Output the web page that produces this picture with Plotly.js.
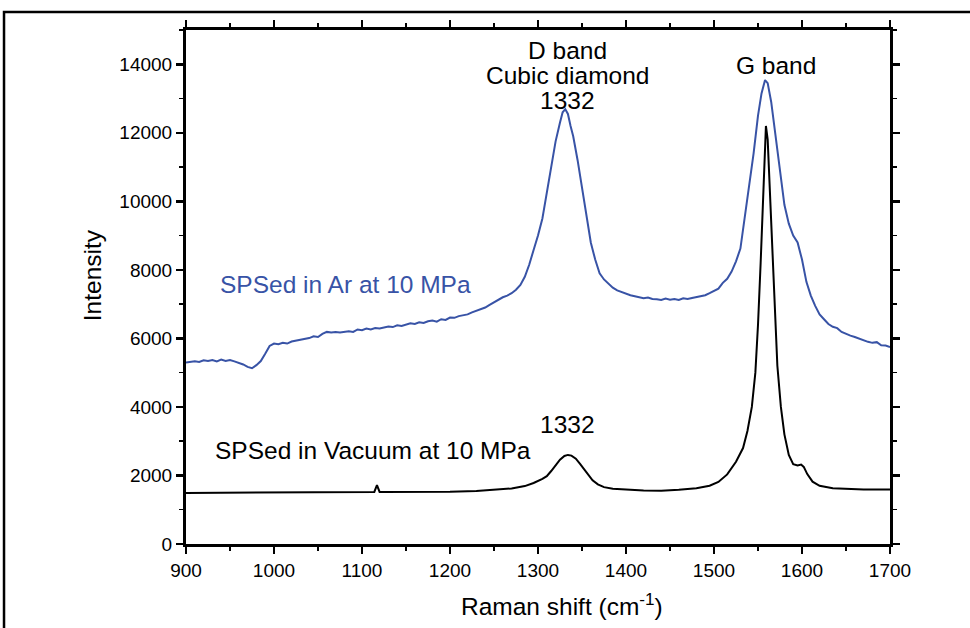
<!DOCTYPE html>
<html>
<head>
<meta charset="utf-8">
<script src="https://cdn.plot.ly/plotly-3.0.1.min.js"></script>
<style>html,body{margin:0;padding:0;background:#fff;}</style>
</head>
<body>
<div id="chart" style="width:970px;height:628px;"></div>
<script>
// Blue: SPSed in Ar at 10 MPa
var arShift = [900,905,910,915,920,925,930,935,940,945,950,955,960,965,970,975,980,985,990,995,
1000,1005,1010,1015,1020,1025,1030,1035,1040,1045,1050,1055,1060,1065,1070,1075,1080,1085,1090,1095,
1100,1105,1110,1115,1120,1125,1130,1135,1140,1145,1150,1155,1160,1165,1170,1175,1180,1185,1190,1195,
1200,1205,1210,1215,1220,1225,1230,1235,1240,1245,1250,1255,1260,1265,1270,1275,1280,1285,1290,1295,
1300,1305,1310,1315,1320,1325,1328,1331,1334,1337,1340,1345,1350,1355,1360,1365,1370,1375,1380,1385,
1390,1395,1400,1405,1410,1415,1420,1425,1430,1435,1440,1445,1450,1455,1460,1465,1470,1475,1480,1485,
1490,1495,1500,1505,1510,1515,1520,1525,1530,1535,1540,1545,1550,1554,1558,1561,1565,1570,1575,1580,
1585,1590,1595,1600,1605,1610,1615,1620,1625,1630,1635,1640,1645,1650,1655,1660,1665,1670,1675,1680,
1685,1690,1695,1700];
var arIntensity = [5300,5320,5330,5310,5360,5340,5370,5330,5380,5340,5370,5330,5290,5240,5170,5130,5220,5340,5550,5780,
5850,5830,5870,5850,5910,5930,5960,5990,6010,6060,6040,6130,6190,6170,6190,6170,6200,6210,6190,6260,
6240,6290,6260,6300,6290,6330,6350,6330,6380,6360,6410,6440,6420,6470,6450,6500,6520,6490,6560,6540,
6610,6600,6650,6680,6700,6760,6800,6840,6900,6980,7050,7140,7200,7250,7320,7420,7560,7800,8150,8580,
9000,9500,10250,11000,11750,12300,12600,12690,12550,12200,11900,11200,10400,9600,8800,8300,7900,7720,7600,7480,
7400,7350,7310,7260,7230,7200,7170,7190,7150,7140,7120,7160,7130,7150,7120,7170,7150,7180,7200,7230,
7260,7320,7380,7450,7620,7740,7950,8250,8620,9550,10400,11400,12500,13150,13540,13450,12900,11900,10800,9900,
9350,9000,8800,8300,7650,7250,6950,6700,6560,6420,6340,6300,6190,6130,6080,6040,5990,5960,5900,5870,
5890,5800,5790,5750];

// Black: SPSed in Vacuum at 10 MPa
var vacShift = [900,950,1000,1050,1100,1110,1114,1117,1120,1125,1150,1200,1230,1250,1270,1285,1295,1305,1310,1315,
1320,1325,1330,1334,1338,1343,1348,1355,1362,1368,1375,1385,1400,1420,1440,1460,1480,1495,1505,1515,
1525,1533,1538,1543,1547,1550,1553,1556,1558,1559,1561,1563,1566,1569,1572,1576,1580,1585,1590,1595,
1599,1602,1606,1612,1620,1635,1650,1670,1700];
var vacIntensity = [1490,1495,1500,1505,1510,1510,1520,1720,1520,1515,1515,1525,1550,1580,1620,1690,1780,1900,1980,2130,
2300,2460,2570,2600,2580,2490,2330,2080,1860,1740,1660,1610,1580,1560,1555,1580,1630,1700,1810,2030,
2400,2800,3300,4000,5000,6400,8200,10500,11900,12200,11800,10600,8300,6600,5200,4000,3200,2600,2330,2290,
2320,2250,2040,1820,1700,1630,1610,1590,1590];

var xTickVals = [900,1000,1100,1200,1300,1400,1500,1600,1700];
var yTickVals = [0,2000,4000,6000,8000,10000,12000,14000];

var blue = '#3853a6';
var font = 'Liberation Sans, Arial, sans-serif';
var annSize = 24.5;

var traces = [
  {x: arShift, y: arIntensity, type: 'scatter', mode: 'lines',
   line: {color: blue, width: 2}, hoverinfo: 'skip'},
  {x: vacShift, y: vacIntensity, type: 'scatter', mode: 'lines',
   line: {color: '#000000', width: 2}, hoverinfo: 'skip'}
];

function ann(x, y, text, color, anchor) {
  return {x: x, y: y, xref: 'x', yref: 'y', text: text, showarrow: false,
          font: {size: annSize, family: font, color: color || '#000'},
          xanchor: anchor || 'center', yanchor: 'middle'};
}

var layout = {
  width: 970, height: 628,
  margin: {l: 186, r: 80, t: 30, b: 84},
  paper_bgcolor: '#ffffff', plot_bgcolor: '#ffffff',
  showlegend: false,
  font: {family: font, color: '#000', size: 19},
  xaxis: {
    range: [900, 1700], tickvals: xTickVals, ticktext: xTickVals.map(String),
    ticks: 'outside', ticklen: 7, tickwidth: 2.5, tickcolor: '#000',
    minor: {dtick: 50, ticks: 'outside', ticklen: 4, tickwidth: 1.5, tickcolor: '#000'},
    showline: true, linewidth: 3, linecolor: '#000', mirror: 'ticks',
    showgrid: false, zeroline: false,
    tickfont: {size: 19, family: font}
  },
  yaxis: {
    range: [0, 15000], tickvals: yTickVals, ticktext: yTickVals.map(String),
    ticks: 'outside', ticklen: 7, tickwidth: 2.5, tickcolor: '#000',
    minor: {dtick: 1000, ticks: 'outside', ticklen: 4, tickwidth: 1.5, tickcolor: '#000'},
    showline: true, linewidth: 3, linecolor: '#000', mirror: 'ticks',
    showgrid: false, zeroline: false,
    tickfont: {size: 19, family: font}
  },
  shapes: [
    {type: 'rect', xref: 'paper', yref: 'paper', x0: -0.2585, x1: 1.2, y0: -0.2, y1: 1.035,
     line: {color: '#000', width: 2.5}, fillcolor: 'rgba(0,0,0,0)', layer: 'below'}
  ],
  annotations: [
    {x: 0.534, y: -0.118, xref: 'paper', yref: 'paper', text: 'Raman shift (cm<sup>-1</sup>)', showarrow: false,
     font: {size: annSize, family: font, color: '#000'}, xanchor: 'center', yanchor: 'middle'},
    {x: -0.1335, y: 0.523, xref: 'paper', yref: 'paper', text: 'Intensity', showarrow: false, textangle: -90,
     font: {size: annSize, family: font, color: '#000'}, xanchor: 'center', yanchor: 'middle'},
    ann(1334, 14415, 'D band'),
    ann(1334, 13686, 'Cubic diamond'),
    ann(1334, 12956, '1332'),
    ann(1570.5, 13977, 'G band'),
    ann(936, 7587, 'SPSed in Ar at 10 MPa', blue, 'left'),
    ann(1333, 3502, '1332'),
    ann(930.7, 2743, 'SPSed in Vacuum at 10 MPa', '#000', 'left')
  ]
};

Plotly.newPlot('chart', traces, layout, {staticPlot: true, displayModeBar: false});
</script>
</body>
</html>
